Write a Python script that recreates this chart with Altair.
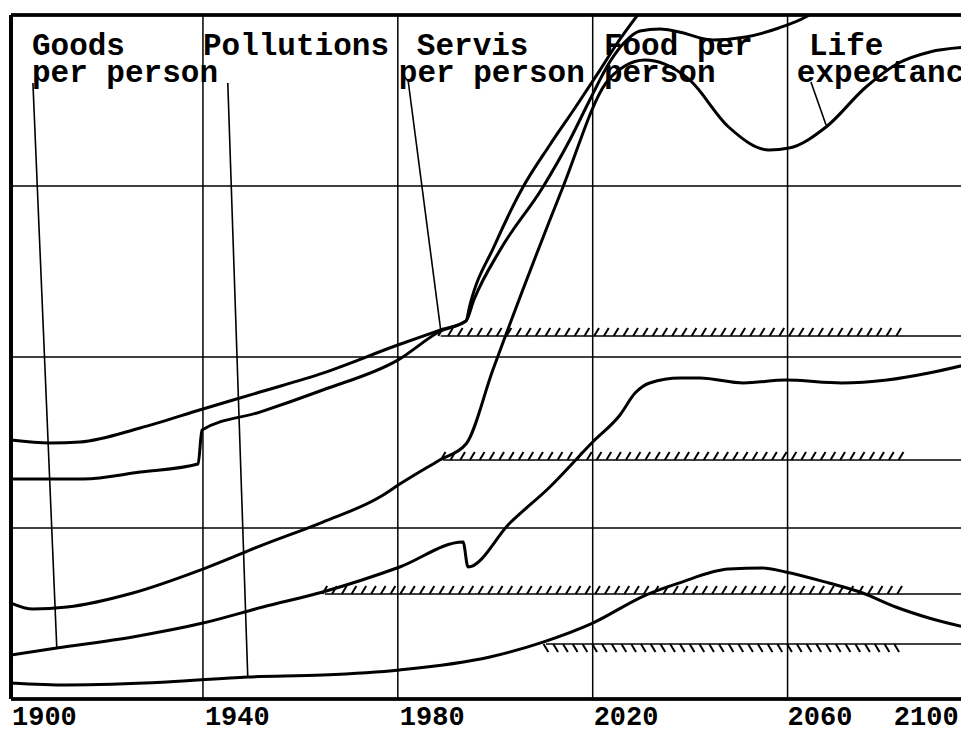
import altair as alt
import pandas as pd

# ---- data: x in calendar years, y in chart units (0 = bottom axis, 4 = top border) ----
a_years = [1900.6, 1908.6, 1914.8, 1927.1, 1940.0, 1951.7, 1964.6, 1980.0, 1988.8, 1994.0,
           1994.8, 1999.9, 2005.7, 2011.2, 2016.5, 2021.5, 2025.2, 2029.7]
a_vals = [1.515, 1.497, 1.503, 1.585, 1.696, 1.795, 1.906, 2.070, 2.158, 2.211,
          2.304, 2.655, 2.994, 3.240, 3.462, 3.678, 3.842, 4.018]

b_years = [1900.6, 1915.4, 1927.1, 1939.0, 1939.8, 1951.7, 1964.6, 1980.0, 1988.8, 1994.0,
           1995.6, 2001.0, 2009.8, 2015.3, 2019.4, 2023.5, 2026.6, 2029.7, 2033.8, 2037.7,
           2044.7, 2051.4, 2058.2, 2063.7, 2066.6]
b_vals = [1.287, 1.287, 1.327, 1.374, 1.573, 1.678, 1.807, 1.982, 2.152, 2.211,
          2.333, 2.626, 2.994, 3.269, 3.503, 3.725, 3.842, 3.906, 3.918, 3.901,
          3.854, 3.871, 3.924, 3.988, 4.041]

c_years = [1900.6, 1905.1, 1912.1, 1925.6, 1940.0, 1952.3, 1964.6, 1976.3, 1980.4, 1988.6,
           1994.0, 1999.5, 2013.9, 2022.7, 2026.6, 2030.7, 2034.8, 2039.9, 2047.9, 2056.2,
           2060.3, 2067.9, 2076.1, 2082.8, 2089.2, 2097.2]
c_vals = [0.561, 0.526, 0.538, 0.620, 0.760, 0.901, 1.035, 1.181, 1.257, 1.398,
          1.491, 1.924, 2.994, 3.602, 3.702, 3.737, 3.713, 3.620, 3.345, 3.211,
          3.222, 3.345, 3.579, 3.719, 3.784, 3.813]

d_years = [1900.6, 1910.0, 1925.6, 1940.0, 1952.3, 1964.6, 1980.4, 1993.4, 1994.4, 2003.0,
           2011.2, 2020.0, 2025.6, 2028.7, 2031.7, 2037.9, 2042.0, 2051.0, 2059.6, 2071.1,
           2080.4, 2089.0, 2097.2]
d_vals = [0.257, 0.298, 0.363, 0.444, 0.538, 0.626, 0.772, 0.918, 0.772, 1.029,
          1.240, 1.503, 1.661, 1.789, 1.848, 1.877, 1.877, 1.848, 1.865, 1.848,
          1.865, 1.906, 1.959]

e_years = [1900.6, 1912.1, 1932.6, 1949.2, 1964.6, 1980.4, 1998.9, 2009.8, 2020.0, 2030.9,
           2037.7, 2047.9, 2054.9, 2059.6, 2068.5, 2075.4, 2082.2, 2089.0, 2097.2]
e_vals = [0.094, 0.082, 0.099, 0.129, 0.140, 0.170, 0.246, 0.333, 0.444, 0.608,
          0.678, 0.760, 0.766, 0.743, 0.678, 0.620, 0.538, 0.474, 0.415]

# grid
grid_years = [1940, 1980, 2020, 2060]
grid_levels = [1, 2, 3]

# threshold (hatched) levels
thr_levels = [2.123, 1.398, 0.614, 0.322]
thr_starts = [1988.8, 1989.3, 1965.0, 2010.4]
thr_dirs = ["up", "up", "up", "down"]
hatch_end = 2084.1
line_end = 2097.2

# label leader lines
lead_x1 = [1905.1, 1945.1, 1982.1, 2064.8]
lead_x2 = [1910.0, 1949.2, 1988.8, 2067.9]
lead_y1 = [3.602, 3.602, 3.620, 3.608]
lead_y2 = [0.298, 0.129, 2.158, 3.357]

# series labels (two lines each)
lab_text = ["Goods", "per person", "Pollutions", "Servis", "per person",
            "Food per", "person", "Life", "expectancy"]
lab_x = [1904.9, 1904.9, 1940.0, 1983.9, 1980.2, 2022.3, 2022.3, 2064.4, 2061.9]
lab_y = [3.766, 3.608, 3.766, 3.766, 3.608, 3.766, 3.608, 3.766, 3.608]

# year labels (y is the bottom of the text box)
year_text = ["1900", "1940", "1980", "2020", "2060", "2100"]
year_x = [1900.8, 1940.4, 1980.4, 2020.2, 2060.0, 2081.8]
year_y = -0.187

# ---- tables ----
rows = []
for name, (ys, vs) in {"A": (a_years, a_vals), "B": (b_years, b_vals), "C": (c_years, c_vals),
                       "D": (d_years, d_vals), "E": (e_years, e_vals)}.items():
    for i, (yr, v) in enumerate(zip(ys, vs)):
        rows.append({"series": name, "year": yr, "value": v, "order": i})
curves_df = pd.DataFrame(rows)

thr_df = pd.DataFrame({"level": thr_levels, "start": thr_starts, "end": [line_end] * 4})

hatch_rows = []
for lvl, s, d in zip(thr_levels, thr_starts, thr_dirs):
    x = s
    while x <= hatch_end:
        hatch_rows.append({"x": x, "y": lvl, "dir": d})
        x += 2.0
hatch_df = pd.DataFrame(hatch_rows)

lead_df = pd.DataFrame({"x1": lead_x1, "x2": lead_x2, "y1": lead_y1, "y2": lead_y2})
lab_df = pd.DataFrame({"text": lab_text, "x": lab_x, "y": lab_y})
year_df = pd.DataFrame({"text": year_text, "x": year_x, "y": [year_y] * len(year_text)})
vgrid_df = pd.DataFrame({"x": grid_years})
hgrid_df = pd.DataFrame({"y": grid_levels})

XS = alt.Scale(domain=[1900.6, 2095.6], nice=False, zero=False)
YS = alt.Scale(domain=[0, 4], nice=False, zero=False)
FONT = "Liberation Mono"


def X(field):
    return alt.X(field, scale=XS, axis=None)


def Y(field):
    return alt.Y(field, scale=YS, axis=None)


vgrid = alt.Chart(vgrid_df).mark_rule(color="black", strokeWidth=1.5).encode(x=X("x:Q"))
hgrid = alt.Chart(hgrid_df).mark_rule(color="black", strokeWidth=1.5).encode(y=Y("y:Q"))

lines = alt.Chart(curves_df).mark_line(
    color="black", strokeWidth=3, interpolate="monotone", clip=True
).encode(x=X("year:Q"), y=Y("value:Q"), detail="series:N", order="order:Q")

thr = alt.Chart(thr_df).mark_rule(color="black", strokeWidth=1.5, clip=True).encode(
    x=X("start:Q"), x2="end:Q", y=Y("level:Q"))

hatch_up = alt.Chart(hatch_df).transform_filter(alt.datum.dir == "up").mark_point(
    shape="M -0.3 0 L 0.3 -1", size=256, filled=False, color="black",
    strokeWidth=2, opacity=1
).encode(x=X("x:Q"), y=Y("y:Q"))

hatch_down = alt.Chart(hatch_df).transform_filter(alt.datum.dir == "down").mark_point(
    shape="M -0.3 0 L 0.3 1", size=256, filled=False, color="black",
    strokeWidth=2, opacity=1
).encode(x=X("x:Q"), y=Y("y:Q"))

leaders = alt.Chart(lead_df).mark_rule(color="black", strokeWidth=1.6).encode(
    x=X("x1:Q"), x2="x2:Q", y=Y("y1:Q"), y2="y2:Q")

labels = alt.Chart(lab_df).mark_text(
    align="left", baseline="alphabetic", font=FONT, fontWeight="bold", fontSize=31,
    color="black"
).encode(x=X("x:Q"), y=Y("y:Q"), text="text:N")

years = alt.Chart(year_df).mark_text(
    align="left", baseline="bottom", font=FONT, fontWeight="bold", fontSize=27,
    color="black"
).encode(x=X("x:Q"), y=Y("y:Q"), text="text:N")

top_border = alt.Chart(hgrid_df).mark_rule(color="black", strokeWidth=3).encode(
    y=alt.datum(4, scale=YS))
bottom_border = alt.Chart(hgrid_df).mark_rule(color="black", strokeWidth=3).encode(
    y=alt.datum(0, scale=YS))
left_border = alt.Chart(hgrid_df).mark_rule(color="black", strokeWidth=4).encode(
    x=alt.datum(1900.6, scale=XS))

chart = alt.layer(
    vgrid, hgrid, lines, thr, hatch_up, hatch_down, leaders, labels, years,
    top_border, bottom_border, left_border
).properties(
    width=950, height=684,
    padding={"left": 3, "top": 7, "right": 0, "bottom": 32},
    autosize=alt.AutoSizeParams(type="none"),
    background="white",
).configure_view(stroke=None)

chart.save("out.html", embed_options={"renderer": "svg", "actions": False})
